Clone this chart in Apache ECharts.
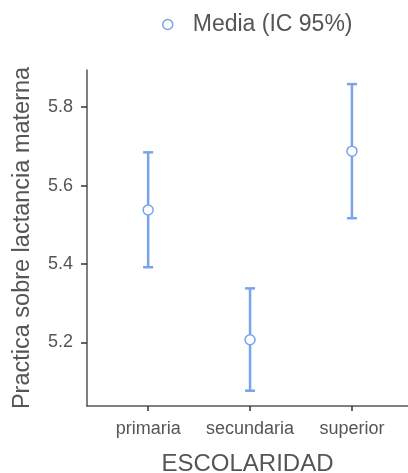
<!DOCTYPE html>
<html><head><meta charset="utf-8">
<script src="https://cdn.jsdelivr.net/npm/echarts@6/dist/echarts.min.js"></script>
<style>html,body{margin:0;padding:0;background:#fff}#c{width:408px;height:473px}</style>
</head><body><div id="c"></div>
<script>
const categories = ['primaria', 'secundaria', 'superior'];
const means = [5.538, 5.207, 5.688];
const lower = [5.392, 5.077, 5.517];
const upper = [5.685, 5.338, 5.859];
const yTicks = [5.2, 5.4, 5.6, 5.8];
const seriesName = 'Media (IC 95%)';
const xTitle = 'ESCOLARIDAD';
const yTitle = 'Practica sobre lactancia materna';

const blue = '#77a4ec';
const textColor = '#555555';
const font = 'Liberation Sans, Arial, sans-serif';
const data = categories.map((c, i) => [i, means[i], lower[i], upper[i]]);

const chart = echarts.init(document.getElementById('c'), null, {renderer: 'canvas'});
chart.setOption({
  animation: false,
  backgroundColor: '#fff',
  legend: {
    data: [{name: seriesName, icon: 'circle', itemStyle: {color: '#fff', borderColor: blue, borderWidth: 1.5}}],
    left: 157, top: 8, itemWidth: 10, itemHeight: 10,
    textStyle: {color: textColor, fontSize: 23, fontFamily: font, padding: [0, 0, 0, 15]}
  },
  grid: {left: 87, top: 70, right: 0, bottom: 67, containLabel: false, outerBoundsMode: 'none'},
  xAxis: {
    type: 'value', min: -0.6, max: 2.55,
    name: xTitle, nameLocation: 'middle', nameGap: 46,
    nameTextStyle: {color: textColor, fontSize: 24, fontFamily: font},
    axisLine: {show: true, onZero: false, lineStyle: {color: '#555', width: 1.5}},
    axisTick: {show: true, length: 5, customValues: [0, 1, 2], lineStyle: {color: '#333', width: 1.5}},
    axisLabel: {customValues: [0, 1, 2], margin: 14, color: textColor, fontSize: 18, fontFamily: font,
      formatter: v => categories[Math.round(v)] || ''},
    splitLine: {show: false}
  },
  yAxis: {
    type: 'value', min: 5.038, max: 5.895,
    name: yTitle, nameLocation: 'middle', nameGap: 52,
    nameTextStyle: {color: textColor, fontSize: 23.5, fontFamily: font},
    axisLine: {show: true, onZero: false, lineStyle: {color: '#555', width: 1.5}},
    axisTick: {show: true, length: 6, customValues: yTicks, lineStyle: {color: '#333', width: 1.5}},
    axisLabel: {customValues: yTicks, margin: 14, color: textColor, fontSize: 18, fontFamily: font,
      formatter: v => v.toFixed(1)},
    splitLine: {show: false}
  },
  series: [{
    name: seriesName,
    type: 'custom',
    data: data,
    encode: {x: 0, y: [1, 2, 3]},
    renderItem: function (params, api) {
      const x = api.value(0);
      const pm = api.coord([x, api.value(1)]);
      const pl = api.coord([x, api.value(2)]);
      const pu = api.coord([x, api.value(3)]);
      const hw = 5, r = 5;
      const ls = {stroke: blue, lineWidth: 2.5};
      return {
        type: 'group',
        children: [
          {type: 'line', shape: {x1: pm[0], y1: pu[1], x2: pm[0], y2: pm[1] - r}, style: ls},
          {type: 'line', shape: {x1: pm[0], y1: pm[1] + r, x2: pm[0], y2: pl[1]}, style: ls},
          {type: 'line', shape: {x1: pm[0] - hw, y1: pu[1], x2: pm[0] + hw, y2: pu[1]}, style: ls},
          {type: 'line', shape: {x1: pm[0] - hw, y1: pl[1], x2: pm[0] + hw, y2: pl[1]}, style: ls},
          {type: 'circle', shape: {cx: pm[0], cy: pm[1], r: r}, style: {fill: '#fff', stroke: blue, lineWidth: 1.5}}
        ]
      };
    }
  }]
});
</script>
</body></html>
